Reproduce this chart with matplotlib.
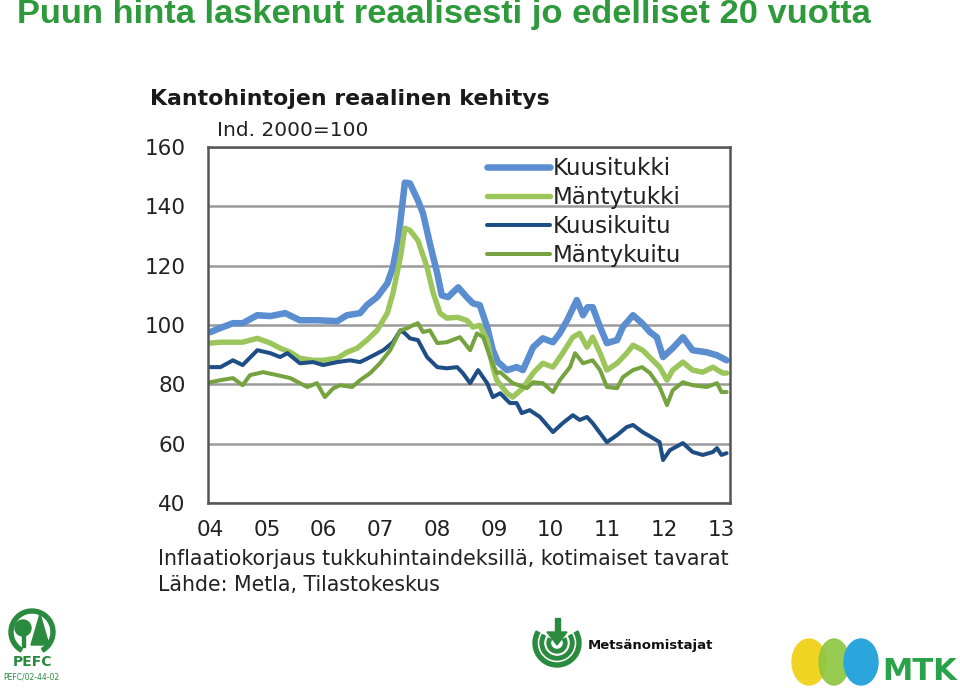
import numpy as np
import matplotlib
matplotlib.use("Agg")
import matplotlib.pyplot as plt
from matplotlib.patches import Wedge, Ellipse, Polygon, Circle, Rectangle

# ---------------- data (index 2000 = 100) ----------------
kuusitukki_t = [2004.0, 2004.18, 2004.40, 2004.57, 2004.83, 2005.06, 2005.32, 2005.58, 2005.88, 2006.24,
                2006.41, 2006.64, 2006.76, 2006.94, 2007.12, 2007.22, 2007.31, 2007.38, 2007.43, 2007.52,
                2007.66, 2007.75, 2007.87, 2008.00, 2008.08, 2008.19, 2008.37, 2008.52, 2008.63, 2008.75,
                2008.88, 2008.98, 2009.07, 2009.23, 2009.40, 2009.51, 2009.69, 2009.86, 2010.04, 2010.16,
                2010.29, 2010.46, 2010.57, 2010.65, 2010.74, 2010.87, 2010.99, 2011.17, 2011.27, 2011.45,
                2011.61, 2011.75, 2011.87, 2011.98, 2012.15, 2012.33, 2012.50, 2012.75, 2012.93, 2013.10]
kuusitukki = [97.6, 99.0, 100.6, 100.6, 103.3, 103.0, 104.0, 101.6, 101.6, 101.3,
              103.3, 104.0, 106.7, 109.4, 114.0, 119.5, 128.5, 139.7, 148.0, 147.7,
              142.0, 137.6, 127.5, 117.4, 110.0, 109.4, 112.7, 109.4, 107.3, 106.7,
              99.3, 91.5, 87.5, 84.8, 85.8, 84.8, 92.5, 95.5, 94.2, 97.2,
              101.6, 108.4, 103.3, 106.0, 106.0, 99.3, 93.9, 94.9, 99.3, 103.3,
              100.6, 97.6, 95.9, 89.2, 92.2, 95.9, 91.5, 90.8, 89.8, 88.1]

mantytukki_t = [2004.0, 2004.18, 2004.40, 2004.57, 2004.83, 2005.06, 2005.23, 2005.41, 2005.58, 2005.81,
                2005.99, 2006.24, 2006.41, 2006.59, 2006.76, 2006.94, 2007.12, 2007.22, 2007.35, 2007.43,
                2007.52, 2007.66, 2007.82, 2007.93, 2008.05, 2008.17, 2008.35, 2008.52, 2008.63, 2008.75,
                2008.88, 2008.98, 2009.05, 2009.23, 2009.33, 2009.51, 2009.69, 2009.86, 2010.04, 2010.21,
                2010.39, 2010.51, 2010.64, 2010.74, 2010.87, 2010.99, 2011.17, 2011.34, 2011.45, 2011.62,
                2011.80, 2011.92, 2012.05, 2012.15, 2012.33, 2012.50, 2012.68, 2012.86, 2013.03, 2013.10]
mantytukki = [93.9, 94.2, 94.2, 94.2, 95.5, 93.9, 92.2, 90.8, 88.8, 88.1,
              88.1, 88.8, 90.8, 92.2, 94.9, 98.2, 104.0, 110.7, 122.8, 132.6,
              131.9, 128.5, 119.5, 110.7, 104.0, 102.3, 102.6, 101.6, 99.3, 99.9,
              94.9, 85.8, 81.4, 77.0, 75.7, 78.7, 83.8, 87.1, 85.8, 90.5,
              95.9, 97.2, 92.5, 95.9, 90.5, 84.8, 87.1, 90.5, 93.2, 91.5,
              88.1, 85.8, 81.4, 84.8, 87.5, 84.8, 84.1, 85.8, 83.8, 83.8]

kuusikuitu_t = [2004.0, 2004.18, 2004.40, 2004.57, 2004.83, 2005.06, 2005.23, 2005.36, 2005.58, 2005.81,
                2005.99, 2006.24, 2006.46, 2006.64, 2006.82, 2007.05, 2007.22, 2007.35, 2007.43, 2007.52,
                2007.66, 2007.82, 2008.00, 2008.17, 2008.35, 2008.45, 2008.58, 2008.72, 2008.88, 2008.98,
                2009.11, 2009.28, 2009.40, 2009.49, 2009.63, 2009.81, 2010.04, 2010.21, 2010.39, 2010.51,
                2010.64, 2010.74, 2010.99, 2011.17, 2011.34, 2011.45, 2011.62, 2011.80, 2011.92, 2011.98,
                2012.10, 2012.33, 2012.50, 2012.68, 2012.86, 2012.93, 2013.01, 2013.10]
kuusikuitu = [85.8, 85.8, 88.1, 86.5, 91.5, 90.5, 89.2, 90.5, 87.1, 87.5,
              86.5, 87.5, 88.1, 87.5, 89.2, 91.5, 94.2, 98.2, 97.2, 95.5,
              94.9, 89.2, 85.8, 85.4, 85.8, 83.8, 80.4, 84.8, 80.4, 75.7,
              77.0, 73.7, 73.7, 70.3, 71.3, 69.0, 63.9, 66.9, 69.6, 68.0,
              69.0, 66.9, 60.5, 62.9, 65.6, 66.3, 63.9, 61.9, 60.5, 54.5,
              57.8, 60.2, 57.2, 56.2, 57.2, 58.5, 56.2, 56.8]

mantykuitu_t = [2004.0, 2004.18, 2004.40, 2004.57, 2004.70, 2004.93, 2005.18, 2005.41, 2005.58, 2005.71,
                2005.88, 2006.02, 2006.17, 2006.29, 2006.50, 2006.64, 2006.82, 2006.99, 2007.17, 2007.35,
                2007.47, 2007.57, 2007.66, 2007.75, 2007.87, 2008.00, 2008.17, 2008.40, 2008.58, 2008.70,
                2008.81, 2008.93, 2009.05, 2009.11, 2009.33, 2009.58, 2009.69, 2009.86, 2010.04, 2010.16,
                2010.34, 2010.43, 2010.57, 2010.74, 2010.87, 2010.99, 2011.17, 2011.27, 2011.45, 2011.61,
                2011.75, 2011.92, 2012.05, 2012.15, 2012.33, 2012.50, 2012.75, 2012.93, 2013.01, 2013.10]
mantykuitu = [80.7, 81.4, 82.1, 79.7, 83.1, 84.1, 83.1, 82.1, 80.4, 79.1,
              80.4, 75.7, 78.7, 79.7, 79.1, 81.4, 83.8, 87.1, 91.5, 98.2,
              98.9, 99.9, 100.6, 97.6, 98.2, 93.9, 94.2, 95.9, 91.5, 97.2,
              95.9, 89.2, 83.8, 84.1, 80.4, 78.7, 80.7, 80.4, 77.4, 81.4,
              85.8, 90.5, 87.1, 88.1, 84.8, 79.1, 78.7, 82.4, 84.8, 85.8,
              83.8, 79.1, 73.0, 78.0, 80.7, 79.7, 79.1, 80.4, 77.4, 77.4]

year_ticks = [2004, 2005, 2006, 2007, 2008, 2009, 2010, 2011, 2012, 2013]
year_labels = ["04", "05", "06", "07", "08", "09", "10", "11", "12", "13"]
y_ticks = [40, 60, 80, 100, 120, 140, 160]

series = [
    ("Kuusitukki", kuusitukki_t, kuusitukki, "#5b8ed0", 4.7),
    ("Mäntytukki", mantytukki_t, mantytukki, "#9cc65c", 3.9),
    ("Kuusikuitu", kuusikuitu_t, kuusikuitu, "#1f4e86", 2.9),
    ("Mäntykuitu", mantykuitu_t, mantykuitu, "#76a33f", 2.9),
]

W, H = 960, 688
fig = plt.figure(figsize=(W / 100, H / 100), dpi=100)
fig.patch.set_facecolor("white")

# page title
fig.text(17 / W, 1 - 15 / H, "Puun hinta laskenut reaalisesti jo edelliset 20 vuotta",
         family="Liberation Sans", weight="bold", fontsize=24.8, color="#2f9a3c",
         ha="left", va="center")

# ---------------- chart ----------------
ax = fig.add_axes([208 / W, 1 - 503 / H, 522 / W, 356 / H])
for name, t, v, col, lw in series:
    ax.plot(t, v, color=col, lw=lw, label=name, solid_joinstyle="round", solid_capstyle="round")

ax.set_xlim(2003.96, 2013.16)
ax.set_ylim(40, 160)
ax.set_xticks(year_ticks)
ax.set_xticklabels(year_labels)
ax.set_yticks(y_ticks)
ax.tick_params(length=0, labelsize=15.5, colors="#222222")
ax.tick_params(axis="x", pad=12)
ax.tick_params(axis="y", pad=16)
ax.yaxis.grid(True, color="#9a9a9a", lw=1.8)
ax.set_axisbelow(True)
for sp in ax.spines.values():
    sp.set_color("#555555")
    sp.set_linewidth(1.8)

leg = ax.legend(loc="upper left", bbox_to_anchor=(487 / W, 1 - 157 / H), bbox_transform=fig.transFigure,
                frameon=False, fontsize=16.6, handlelength=2.75, handletextpad=0.12,
                labelspacing=0.26, borderpad=0, borderaxespad=0)
for txt in leg.get_texts():
    txt.set_color("#222222")

fig.text(150 / W, 1 - 99 / H, "Kantohintojen reaalinen kehitys", weight="bold",
         fontsize=15.8, color="#1a1a1a", ha="left", va="center")
fig.text(217 / W, 1 - 130 / H, "Ind. 2000=100", fontsize=14.5, color="#222222",
         ha="left", va="center")
fig.text(158 / W, 1 - 559 / H, "Inflaatiokorjaus tukkuhintaindeksillä, kotimaiset tavarat",
         fontsize=14.8, color="#222222", ha="left", va="center")
fig.text(158 / W, 1 - 585 / H, "Lähde: Metla, Tilastokeskus",
         fontsize=14.8, color="#222222", ha="left", va="center")

# ---------------- logos (rough) ----------------
lg = fig.add_axes([0, 0, 1, 1], zorder=-1)
lg.set_xlim(0, W)
lg.set_ylim(H, 0)
lg.axis("off")

pefc = "#2a8a3e"
lg.add_patch(Wedge((32, 632), 23, 120, 420, width=4, color=pefc))
lg.add_patch(Circle((23, 628), 8, color=pefc))
lg.add_patch(Rectangle((21.5, 634), 3, 13, color=pefc))
lg.add_patch(Polygon([[40, 614], [31, 645], [49, 645]], color=pefc))
lg.text(32, 662, "PEFC", fontsize=10, weight="bold", color=pefc, ha="center", va="center")
lg.text(31, 677, "PEFC/02-44-02", fontsize=5.5, color=pefc, ha="center", va="center")

mo = "#2a8a3e"
for r, w in [(24, 4), (17, 3.5), (10, 3.5)]:
    lg.add_patch(Wedge((557, 643), r, -30, 210, width=w, color=mo))
lg.add_patch(Rectangle((554.5, 618), 5, 22, color=mo))
lg.add_patch(Polygon([[547, 632], [567, 632], [557, 645]], color=mo))
lg.text(588, 646, "Metsänomistajat", fontsize=9.5, weight="bold", color="#111111",
        ha="left", va="center")

lg.add_patch(Ellipse((809, 662), 34, 46, color="#f0d323"))
lg.add_patch(Ellipse((834, 662), 30, 46, color="#8cc63f", alpha=0.9))
lg.add_patch(Ellipse((861, 662), 34, 46, color="#2aa6dd"))
lg.text(920, 671, "MTK", fontsize=22, weight="bold", color="#2aa24a", ha="center", va="center")

fig.savefig("out.png", dpi=100, facecolor="white")
